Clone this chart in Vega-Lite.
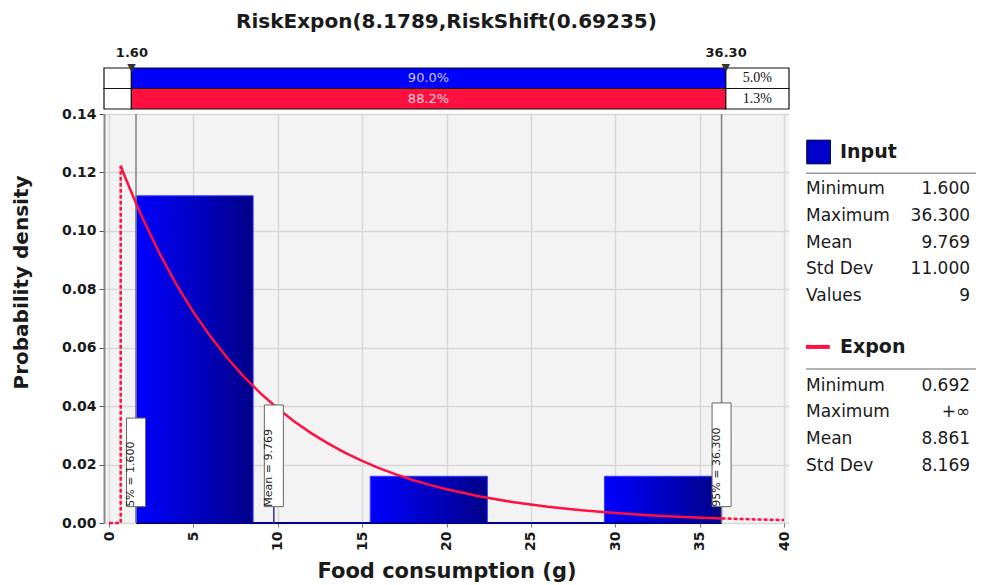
{
  "$schema": "https://vega.github.io/schema/vega-lite/v6.json",
  "background": "white",
  "padding": {"left": 11, "top": 12, "right": 0, "bottom": 0},
  "config": {
    "font": "DejaVu Sans",
    "view": {"stroke": null},
    "axis": {"labelColor": "#1a1a1a", "titleColor": "#1a1a1a"}
  },
  "datasets": {
    "bins": [
      {"lo": 1.6, "hi": 8.54, "density": 0.112},
      {"lo": 15.48, "hi": 22.42, "density": 0.016},
      {"lo": 29.36, "hi": 36.3, "density": 0.016}
    ],
    "baseline": [{"from": 1.6, "to": 36.3, "level": 0}],
    "curve": [
      {"x": 0.69235, "y": 0.12227}, {"x": 1, "y": 0.11775}, {"x": 1.6, "y": 0.10942},
      {"x": 2, "y": 0.1042}, {"x": 3, "y": 0.09221}, {"x": 4, "y": 0.0816},
      {"x": 5, "y": 0.07221}, {"x": 6, "y": 0.06389}, {"x": 7, "y": 0.05654},
      {"x": 8, "y": 0.05003}, {"x": 9, "y": 0.04427}, {"x": 10, "y": 0.03918},
      {"x": 11, "y": 0.03467}, {"x": 12, "y": 0.03068}, {"x": 13, "y": 0.02715},
      {"x": 14, "y": 0.02403}, {"x": 15, "y": 0.02126}, {"x": 16, "y": 0.01881},
      {"x": 17, "y": 0.01665}, {"x": 18, "y": 0.01473}, {"x": 19, "y": 0.01304},
      {"x": 20, "y": 0.01154}, {"x": 22, "y": 0.00904}, {"x": 24, "y": 0.00708},
      {"x": 26, "y": 0.00554}, {"x": 28, "y": 0.00434}, {"x": 30, "y": 0.0034},
      {"x": 32, "y": 0.00266}, {"x": 34, "y": 0.00208}, {"x": 36.3, "y": 0.00157}
    ],
    "tail": [
      {"x": 36.3, "y": 0.00157}, {"x": 38, "y": 0.00128}, {"x": 40, "y": 0.001}
    ],
    "pre": [
      {"k": 1, "x": 0, "y": 0}, {"k": 2, "x": 0.69235, "y": 0}, {"k": 3, "x": 0.69235, "y": 0.12227}
    ],
    "delims": [{"p": 1.6, "row": "Input"}, {"p": 36.3, "row": "Input"}],
    "markers": [
      {"label": "5% = 1.600", "pos": 1.6, "lo": 0.0056, "hi": 0.0359},
      {"label": "Mean = 9.769", "pos": 9.769, "lo": 0.0056, "hi": 0.0404},
      {"label": "95% = 36.300", "pos": 36.3, "lo": 0.0056, "hi": 0.0411}
    ],
    "strip": [
      {"row": "Input", "seg": "lower", "from": 0, "to": 1.6, "xc": 0.8, "pct": ""},
      {"row": "Input", "seg": "mid", "from": 1.6, "to": 36.3, "xc": 18.95, "pct": "90.0%"},
      {"row": "Input", "seg": "upper", "from": 36.3, "to": 40, "xc": 38.15, "pct": "5.0%"},
      {"row": "Expon", "seg": "lower", "from": 0, "to": 1.6, "xc": 0.8, "pct": ""},
      {"row": "Expon", "seg": "mid", "from": 1.6, "to": 36.3, "xc": 18.95, "pct": "88.2%"},
      {"row": "Expon", "seg": "upper", "from": 36.3, "to": 40, "xc": 38.15, "pct": "1.3%"}
    ],
    "legend": [
      {"kind": "head", "line": 0, "label": "Input", "value": ""},
      {"kind": "sep", "line": 0.8, "label": "", "value": ""},
      {"kind": "row", "line": 1.4, "label": "Minimum", "value": "1.600"},
      {"kind": "row", "line": 2.4, "label": "Maximum", "value": "36.300"},
      {"kind": "row", "line": 3.4, "label": "Mean", "value": "9.769"},
      {"kind": "row", "line": 4.4, "label": "Std Dev", "value": "11.000"},
      {"kind": "row", "line": 5.4, "label": "Values", "value": "9"},
      {"kind": "head", "line": 7.3, "label": "Expon", "value": ""},
      {"kind": "sep", "line": 8.13, "label": "", "value": ""},
      {"kind": "row", "line": 8.75, "label": "Minimum", "value": "0.692"},
      {"kind": "row", "line": 9.75, "label": "Maximum", "value": "+∞"},
      {"kind": "row", "line": 10.75, "label": "Mean", "value": "8.861"},
      {"kind": "row", "line": 11.75, "label": "Std Dev", "value": "8.169"}
    ]
  },
  "spacing": 13,
  "hconcat": [
    {
      "spacing": 5,
      "bounds": "flush",
      "vconcat": [
        {
          "width": 685,
          "height": 41,
          "title": {"text": "RiskExpon(8.1789,RiskShift(0.69235)", "fontSize": 20, "fontWeight": "bold", "color": "#1a1a1a", "offset": 14, "anchor": "middle"},
          "layer": [
            {
              "data": {"name": "strip"},
              "transform": [{"filter": "datum.seg !== 'mid'"}],
              "mark": {"type": "rect", "stroke": "#111111", "strokeWidth": 1.2, "fill": "white"},
              "encoding": {
                "x": {"field": "from", "type": "quantitative", "scale": {"domain": [0, 40], "nice": false, "zero": false},
                  "axis": {"orient": "top", "values": [1.6, 36.3], "format": ".2f", "labelFontWeight": "bold", "labelFontSize": 13, "labelPadding": 9, "ticks": false, "domain": false, "grid": false, "title": null}},
                "x2": {"field": "to"},
                "y": {"field": "row", "type": "nominal", "scale": {"domain": ["Input", "Expon"], "paddingInner": 0, "paddingOuter": 0}, "axis": null}
              }
            },
            {
              "data": {"name": "strip"},
              "transform": [{"filter": "datum.seg === 'mid'"}],
              "mark": {"type": "rect", "stroke": "#111111", "strokeWidth": 1.2},
              "encoding": {
                "x": {"field": "from", "type": "quantitative"},
                "x2": {"field": "to"},
                "y": {"field": "row", "type": "nominal"},
                "fill": {"field": "row", "type": "nominal", "scale": {"domain": ["Input", "Expon"], "range": ["#0000ff", "#ff1040"]}, "legend": null}
              }
            },
            {
              "data": {"name": "strip"},
              "transform": [{"filter": "datum.seg === 'mid'"}],
              "mark": {"type": "text", "fontSize": 13, "baseline": "middle"},
              "encoding": {
                "x": {"field": "xc", "type": "quantitative"},
                "y": {"field": "row", "type": "nominal"},
                "text": {"field": "pct", "type": "nominal"},
                "color": {"condition": {"test": "datum.row === 'Input'", "value": "#c8c8ff"}, "value": "#ffd0d8"}
              }
            },
            {
              "data": {"name": "strip"},
              "transform": [{"filter": "datum.seg === 'upper'"}],
              "mark": {"type": "text", "fontSize": 14, "font": "Liberation Serif", "baseline": "middle", "color": "#111111"},
              "encoding": {
                "x": {"field": "xc", "type": "quantitative"},
                "y": {"field": "row", "type": "nominal"},
                "text": {"field": "pct", "type": "nominal"}
              }
            },
            {
              "data": {"name": "delims"},
              "mark": {"type": "text", "text": "▼", "fontSize": 11, "baseline": "middle", "dy": -10, "color": "#333333"},
              "encoding": {
                "x": {"field": "p", "type": "quantitative"},
                "y": {"field": "row", "type": "nominal"}
              }
            }
          ]
        },
        {
          "width": 685,
          "height": 409,
          "view": {"fill": "#f3f3f3"},
          "layer": [
            {
              "data": {"name": "bins"},
              "mark": {"type": "bar", "stroke": "#3a3aff", "strokeWidth": 1,
                "color": {"gradient": "linear", "x1": 0, "y1": 0, "x2": 1, "y2": 0, "stops": [{"offset": 0, "color": "#0000ff"}, {"offset": 1, "color": "#000088"}]}},
              "encoding": {
                "x": {"field": "lo", "type": "quantitative", "scale": {"domain": [0, 40], "nice": false, "zero": false},
                  "axis": {"values": [0, 5, 10, 15, 20, 25, 30, 35, 40], "labelAngle": -90, "labelFontWeight": "bold", "labelFontSize": 14, "labelPadding": 4,
                    "title": "Food consumption (g)", "titleFontSize": 21, "titleFontWeight": "bold", "titlePadding": 10,
                    "grid": true, "gridColor": "#d8d8d8", "gridWidth": 1.5, "domain": false, "tickColor": "#777777", "tickSize": 4}},
                "x2": {"field": "hi"},
                "y": {"field": "density", "type": "quantitative", "scale": {"domain": [0, 0.14], "nice": false},
                  "axis": {"values": [0, 0.02, 0.04, 0.06, 0.08, 0.1, 0.12, 0.14], "format": ".2f", "labelFontWeight": "bold", "labelFontSize": 14, "labelPadding": 3,
                    "title": "Probability density", "titleFontSize": 20, "titleFontWeight": "bold", "titleX": -83, "titleY": 168, "titleBaseline": "middle", "titleAngle": 270,
                    "grid": true, "gridColor": "#d8d8d8", "gridWidth": 1.5, "domainColor": "#888888", "domainWidth": 2, "tickColor": "#555555", "tickSize": 5}},
                "y2": {"datum": 0}
              }
            },
            {
              "data": {"name": "baseline"},
              "mark": {"type": "rule", "color": "#000088", "strokeWidth": 2},
              "encoding": {"x": {"field": "from", "type": "quantitative"}, "x2": {"field": "to"}, "y": {"field": "level", "type": "quantitative"}}
            },
            {
              "data": {"name": "delims"},
              "mark": {"type": "rule", "color": "#808080", "strokeWidth": 1.5},
              "encoding": {"x": {"field": "p", "type": "quantitative"}}
            },
            {
              "data": {"name": "pre"},
              "mark": {"type": "line", "color": "#ff1040", "strokeWidth": 2.5, "strokeDash": [4, 2]},
              "encoding": {"x": {"field": "x", "type": "quantitative"}, "y": {"field": "y", "type": "quantitative"}, "order": {"field": "k", "type": "quantitative"}}
            },
            {
              "data": {"name": "curve"},
              "mark": {"type": "line", "color": "#ff1040", "strokeWidth": 2.5},
              "encoding": {"x": {"field": "x", "type": "quantitative"}, "y": {"field": "y", "type": "quantitative"}}
            },
            {
              "data": {"name": "tail"},
              "mark": {"type": "line", "color": "#ff1040", "strokeWidth": 2.5, "strokeDash": [4, 2]},
              "encoding": {"x": {"field": "x", "type": "quantitative"}, "y": {"field": "y", "type": "quantitative"}}
            },
            {
              "data": {"name": "markers"},
              "transform": [{"filter": "datum.pos > 5 && datum.pos < 30"}],
              "mark": {"type": "rule", "color": "#333399", "strokeWidth": 1.5},
              "encoding": {"x": {"field": "pos", "type": "quantitative"}, "y": {"field": "lo", "type": "quantitative"}, "y2": {"datum": 0}}
            },
            {
              "data": {"name": "markers"},
              "mark": {"type": "bar", "width": 19, "fill": "white", "stroke": "#666666", "strokeWidth": 1},
              "encoding": {"x": {"field": "pos", "type": "quantitative"}, "y": {"field": "lo", "type": "quantitative"}, "y2": {"field": "hi"}}
            },
            {
              "data": {"name": "markers"},
              "mark": {"type": "text", "angle": 270, "align": "left", "baseline": "middle", "dy": -5, "fontSize": 11, "color": "#222222"},
              "encoding": {"x": {"field": "pos", "type": "quantitative"}, "y": {"field": "lo", "type": "quantitative"}, "text": {"field": "label", "type": "nominal"}}
            }
          ]
        }
      ]
    },
    {
      "width": 170,
      "height": 455,
      "data": {"name": "legend"},
      "layer": [
        {
          "transform": [{"filter": "datum.kind === 'row'"}],
          "mark": {"type": "text", "align": "left", "baseline": "middle", "fontSize": 17, "color": "#1a1a1a"},
          "encoding": {
            "x": {"datum": 0, "type": "quantitative", "scale": {"domain": [0, 1], "nice": false, "zero": false}, "axis": null},
            "y": {"field": "line", "type": "quantitative", "scale": {"domain": [-3.146, 13.895], "reverse": true, "nice": false, "zero": false}, "axis": null},
            "text": {"field": "label", "type": "nominal"}
          }
        },
        {
          "transform": [{"filter": "datum.kind === 'row'"}],
          "mark": {"type": "text", "align": "right", "baseline": "middle", "fontSize": 17, "color": "#1a1a1a"},
          "encoding": {"x": {"datum": 0.965, "type": "quantitative"}, "y": {"field": "line", "type": "quantitative"}, "text": {"field": "value", "type": "nominal"}}
        },
        {
          "transform": [{"filter": "datum.kind === 'head'"}],
          "mark": {"type": "text", "align": "left", "baseline": "middle", "fontSize": 19, "fontWeight": "bold", "color": "#1a1a1a"},
          "encoding": {"x": {"datum": 0.2, "type": "quantitative"}, "y": {"field": "line", "type": "quantitative"}, "text": {"field": "label", "type": "nominal"}}
        },
        {
          "transform": [{"filter": "datum.kind === 'sep'"}],
          "mark": {"type": "rule", "color": "#999999", "strokeWidth": 1.5},
          "encoding": {"x": {"datum": 0, "type": "quantitative"}, "x2": {"datum": 1}, "y": {"field": "line", "type": "quantitative"}}
        },
        {
          "transform": [{"filter": "datum.kind === 'head' && datum.label === 'Input'"}],
          "mark": {"type": "point", "shape": "square", "filled": true, "size": 560, "color": "#0000cc", "stroke": "#000033", "strokeWidth": 1, "opacity": 1},
          "encoding": {"x": {"datum": 0.074, "type": "quantitative"}, "y": {"field": "line", "type": "quantitative"}}
        },
        {
          "transform": [{"filter": "datum.kind === 'head' && datum.label === 'Expon'"}],
          "mark": {"type": "rule", "color": "#ff1040", "strokeWidth": 4},
          "encoding": {"x": {"datum": 0, "type": "quantitative"}, "x2": {"datum": 0.14}, "y": {"field": "line", "type": "quantitative"}}
        }
      ]
    }
  ]
}
